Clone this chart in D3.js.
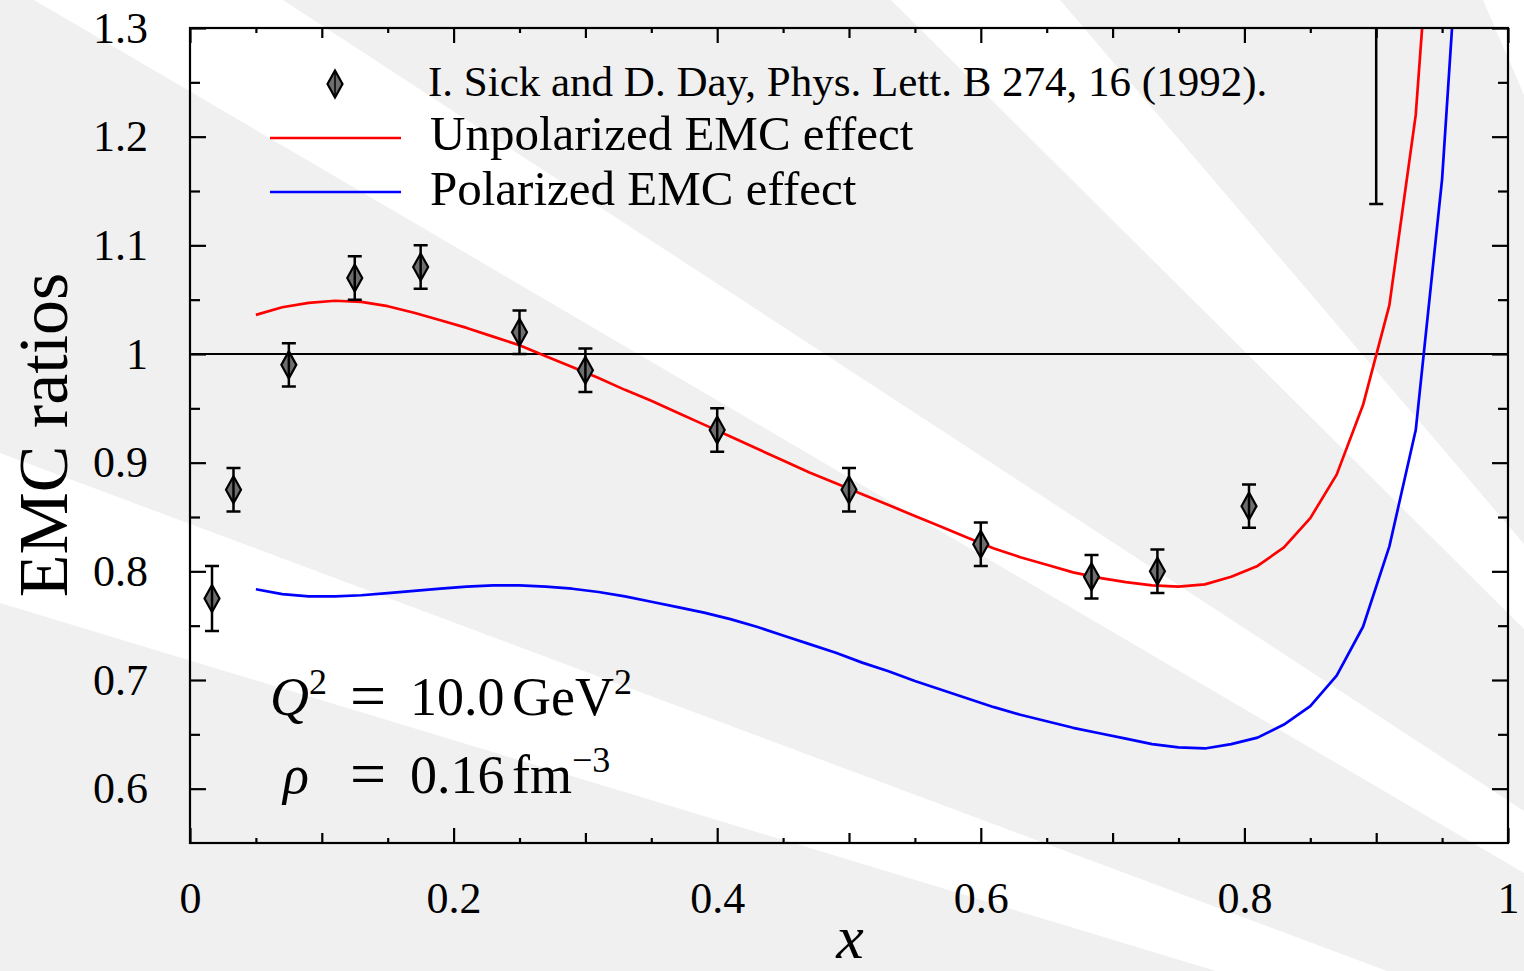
<!DOCTYPE html>
<html>
<head>
<meta charset="utf-8">
<script src="https://cdn.jsdelivr.net/npm/d3@7"></script>
<style>
  html, body { margin: 0; padding: 0; background: #f0f0f0; }
  svg { display: block; }
  text { font-family: "Liberation Serif", "DejaVu Serif", serif; fill: #000; }
</style>
</head>
<body>
<svg id="chart" width="1524" height="971"></svg>
<script>
// ---- data -------------------------------------------------------------
// Sick & Day nuclear-matter EMC ratio points
const dataX   = [0.0167, 0.033, 0.075, 0.125, 0.175, 0.25, 0.30, 0.40, 0.50, 0.60, 0.684, 0.734, 0.8035, 0.90];
const dataY   = [0.775, 0.875, 0.99, 1.07, 1.08, 1.02, 0.985, 0.93, 0.875, 0.825, 0.795, 0.80, 0.86, 1.40];
const dataErr = [0.03, 0.02, 0.02, 0.02, 0.02, 0.02, 0.02, 0.02, 0.02, 0.02, 0.02, 0.02, 0.02, 0.262];

// model curves sampled in Bjorken x
const curveX = [0.05, 0.07, 0.09, 0.11, 0.13, 0.15, 0.17, 0.19, 0.21, 0.23,
                0.25, 0.27, 0.29, 0.31, 0.33, 0.35, 0.37, 0.39, 0.41, 0.43,
                0.45, 0.47, 0.49, 0.51, 0.53, 0.55, 0.57, 0.59, 0.61, 0.63,
                0.65, 0.67, 0.69, 0.71, 0.73, 0.75, 0.77, 0.79, 0.81, 0.83,
                0.85, 0.87, 0.89, 0.91, 0.93, 0.95, 0.97];
const unpolarized = [1.036, 1.043, 1.047, 1.049, 1.048, 1.044, 1.038, 1.031, 1.024, 1.016,
                     1.008, 0.998, 0.988, 0.978, 0.967, 0.957, 0.946, 0.935, 0.924, 0.913,
                     0.902, 0.891, 0.881, 0.871, 0.861, 0.851, 0.841, 0.831, 0.821, 0.813,
                     0.806, 0.799, 0.794, 0.790, 0.787, 0.786, 0.788, 0.795, 0.805, 0.822,
                     0.849, 0.889, 0.953, 1.045, 1.220, 1.550, 2.000];
const polarized   = [0.7835, 0.779, 0.777, 0.777, 0.778, 0.780, 0.782, 0.784, 0.786, 0.787,
                     0.787, 0.786, 0.784, 0.781, 0.777, 0.772, 0.767, 0.762, 0.756, 0.749,
                     0.741, 0.733, 0.725, 0.716, 0.708, 0.699, 0.691, 0.683, 0.675, 0.668,
                     0.662, 0.656, 0.651, 0.646, 0.641, 0.638, 0.637, 0.641, 0.647, 0.659,
                     0.676, 0.704, 0.749, 0.823, 0.930, 1.161, 1.530];

// axis ticks
const xMajor = [0, 0.2, 0.4, 0.6, 0.8, 1];
const xLabels = ["0", "0.2", "0.4", "0.6", "0.8", "1"];
const xMid = [0.1, 0.3, 0.5, 0.7, 0.9];
const xMinor = [0.05, 0.15, 0.25, 0.35, 0.45, 0.55, 0.65, 0.75, 0.85, 0.95];
const yMajor = [0.6, 0.7, 0.8, 0.9, 1.0, 1.1, 1.2, 1.3];
const yLabels = ["0.6", "0.7", "0.8", "0.9", "1", "1.1", "1.2", "1.3"];
const yMinor = [0.65, 0.75, 0.85, 0.95, 1.05, 1.15, 1.25];

const seriesNames = ["I. Sick and D. Day, Phys. Lett. B 274, 16 (1992).",
                     "Unpolarized EMC effect", "Polarized EMC effect"];

// ---- layout -----------------------------------------------------------
const W = 1524, H = 971;
const plot = { left: 190, right: 1508, top: 28, bottom: 843 };

const svg = d3.select("#chart");

// background light rays
const bgBands = [
  [[0, 453], [1387, 971], [1216, 971], [0, 603]],
  [[283, 0], [1524, 811], [1524, 873], [34, 0]],
  [[1060, 0], [1524, 544], [1524, 629], [891, 0]],
  [[1483, 0], [1524, 95], [1524, 0]]
];
svg.append("rect").attr("width", W).attr("height", H).attr("fill", "#f0f0f0");
svg.append("g").selectAll("polygon").data(bgBands).join("polygon")
  .attr("points", d => d.map(p => p.join(",")).join(" "))
  .attr("fill", "#ffffff");

const x = d3.scaleLinear().domain([0, 1]).range([plot.left, plot.right]);
const y = d3.scaleLinear().domain([0.55, 1.3]).range([plot.bottom, plot.top]);

svg.append("clipPath").attr("id", "plotClip")
  .append("rect")
  .attr("x", plot.left).attr("y", plot.top)
  .attr("width", plot.right - plot.left).attr("height", plot.bottom - plot.top);

// reference line at ratio 1
svg.append("line")
  .attr("x1", x(0)).attr("x2", x(1)).attr("y1", y(1)).attr("y2", y(1))
  .attr("stroke", "#000").attr("stroke-width", 2);

// curves
const curveLine = vals => d3.line()
  .x((d, i) => x(curveX[i]))
  .y(d => y(d))(vals);

const curves = svg.append("g").attr("clip-path", "url(#plotClip)");
curves.append("path").attr("d", curveLine(unpolarized))
  .attr("fill", "none").attr("stroke", "#ff0000").attr("stroke-width", 2.7)
  .attr("stroke-linejoin", "round");
curves.append("path").attr("d", curveLine(polarized))
  .attr("fill", "none").attr("stroke", "#0000ff").attr("stroke-width", 2.7)
  .attr("stroke-linejoin", "round");

// data points: diamonds with error bars
const dw = 7.5, dh = 13.5, cap = 7;
const diamond = (cx, cy) => `M${cx},${cy - dh}L${cx + dw},${cy}L${cx},${cy + dh}L${cx - dw},${cy}Z`;
const pts = svg.append("g").attr("clip-path", "url(#plotClip)");
const pg = pts.selectAll("g").data(dataX).join("g");
pg.append("path")
  .attr("d", (d, i) => diamond(x(d), y(dataY[i])))
  .attr("fill", "#6e6e6e").attr("stroke", "#000").attr("stroke-width", 2.2);
pg.append("path")
  .attr("d", (d, i) => {
    const cx = x(d), y1 = y(dataY[i] + dataErr[i]), y2 = y(dataY[i] - dataErr[i]);
    return `M${cx},${y1}V${y2}M${cx - cap},${y1}H${cx + cap}M${cx - cap},${y2}H${cx + cap}`;
  })
  .attr("fill", "none").attr("stroke", "#000").attr("stroke-width", 2.5);

// axes (ticks pointing inward on all four sides)
function styleAxis(g) {
  g.select(".domain").remove();
  g.selectAll(".tick line").attr("stroke", "#000").attr("stroke-width", 2.2);
  g.selectAll("text").attr("font-family", "Liberation Serif").attr("font-size", 44).attr("fill", "#000");
}
const fmtX = d => xLabels[xMajor.indexOf(d)];
const fmtY = d => yLabels[yMajor.findIndex(v => Math.abs(v - d) < 1e-9)];

svg.append("g").attr("transform", `translate(0,${plot.bottom})`)
  .call(d3.axisBottom(x).tickValues(xMajor).tickSize(-15).tickPadding(39).tickFormat(fmtX)).call(styleAxis);
svg.append("g").attr("transform", `translate(0,${plot.bottom})`)
  .call(d3.axisBottom(x).tickValues(xMid).tickSize(-10).tickFormat("")).call(styleAxis);
svg.append("g").attr("transform", `translate(0,${plot.bottom})`)
  .call(d3.axisBottom(x).tickValues(xMinor).tickSize(-5).tickFormat("")).call(styleAxis);

svg.append("g").attr("transform", `translate(0,${plot.top})`)
  .call(d3.axisTop(x).tickValues(xMajor).tickSize(-15).tickFormat("")).call(styleAxis);
svg.append("g").attr("transform", `translate(0,${plot.top})`)
  .call(d3.axisTop(x).tickValues(xMid).tickSize(-10).tickFormat("")).call(styleAxis);
svg.append("g").attr("transform", `translate(0,${plot.top})`)
  .call(d3.axisTop(x).tickValues(xMinor).tickSize(-5).tickFormat("")).call(styleAxis);

svg.append("g").attr("transform", `translate(${plot.left},0)`)
  .call(d3.axisLeft(y).tickValues(yMajor).tickSize(-16).tickPadding(42).tickFormat(fmtY)).call(styleAxis);
svg.append("g").attr("transform", `translate(${plot.left},0)`)
  .call(d3.axisLeft(y).tickValues(yMinor).tickSize(-10).tickFormat("")).call(styleAxis);
svg.append("g").attr("transform", `translate(${plot.right},0)`)
  .call(d3.axisRight(y).tickValues(yMajor).tickSize(-16).tickFormat("")).call(styleAxis);
svg.append("g").attr("transform", `translate(${plot.right},0)`)
  .call(d3.axisRight(y).tickValues(yMinor).tickSize(-10).tickFormat("")).call(styleAxis);

// frame
svg.append("rect")
  .attr("x", plot.left).attr("y", plot.top)
  .attr("width", plot.right - plot.left).attr("height", plot.bottom - plot.top)
  .attr("fill", "none").attr("stroke", "#000").attr("stroke-width", 2.2);

// axis titles
svg.append("text")
  .attr("transform", "translate(67,435) rotate(-90)")
  .attr("text-anchor", "middle").attr("font-size", 70)
  .text("EMC ratios");
svg.append("text")
  .attr("x", 850).attr("y", 958).attr("text-anchor", "middle")
  .attr("font-size", 62).attr("font-style", "italic")
  .text("x");

// legend
const lg = svg.append("g");
lg.append("path").attr("d", diamond(335, 84))
  .attr("fill", "#6e6e6e").attr("stroke", "#000").attr("stroke-width", 2.2);
lg.append("line").attr("x1", 335).attr("x2", 335).attr("y1", 71).attr("y2", 97)
  .attr("stroke", "#000").attr("stroke-width", 1.5);
lg.append("text").attr("x", 428).attr("y", 96).attr("font-size", 43).text(seriesNames[0]);
lg.append("line").attr("x1", 270).attr("x2", 401).attr("y1", 138).attr("y2", 138)
  .attr("stroke", "#ff0000").attr("stroke-width", 2.7);
lg.append("text").attr("x", 430).attr("y", 150).attr("font-size", 49).text(seriesNames[1]);
lg.append("line").attr("x1", 270).attr("x2", 401).attr("y1", 192).attr("y2", 192)
  .attr("stroke", "#0000ff").attr("stroke-width", 2.7);
lg.append("text").attr("x", 430).attr("y", 205).attr("font-size", 49).text(seriesNames[2]);

// kinematics annotation
const ann = svg.append("g");
ann.append("text").attr("x", 270).attr("y", 715).attr("font-size", 54).attr("font-style", "italic").text("Q");
ann.append("text").attr("x", 309).attr("y", 694).attr("font-size", 36).text("2");
ann.append("text").attr("x", 350).attr("y", 717).attr("font-size", 64).text("=");
ann.append("text").attr("x", 410).attr("y", 715).attr("font-size", 54).text("10.0");
ann.append("text").attr("x", 512).attr("y", 715).attr("font-size", 54).text("GeV");
ann.append("text").attr("x", 614).attr("y", 694).attr("font-size", 36).text("2");

ann.append("text").attr("x", 283).attr("y", 793).attr("font-size", 54).attr("font-style", "italic").text("ρ");
ann.append("text").attr("x", 350).attr("y", 795).attr("font-size", 64).text("=");
ann.append("text").attr("x", 410).attr("y", 793).attr("font-size", 54).text("0.16");
ann.append("text").attr("x", 512).attr("y", 793).attr("font-size", 54).text("fm");
ann.append("text").attr("x", 572).attr("y", 772).attr("font-size", 36).text("−3");
</script>
</body>
</html>
